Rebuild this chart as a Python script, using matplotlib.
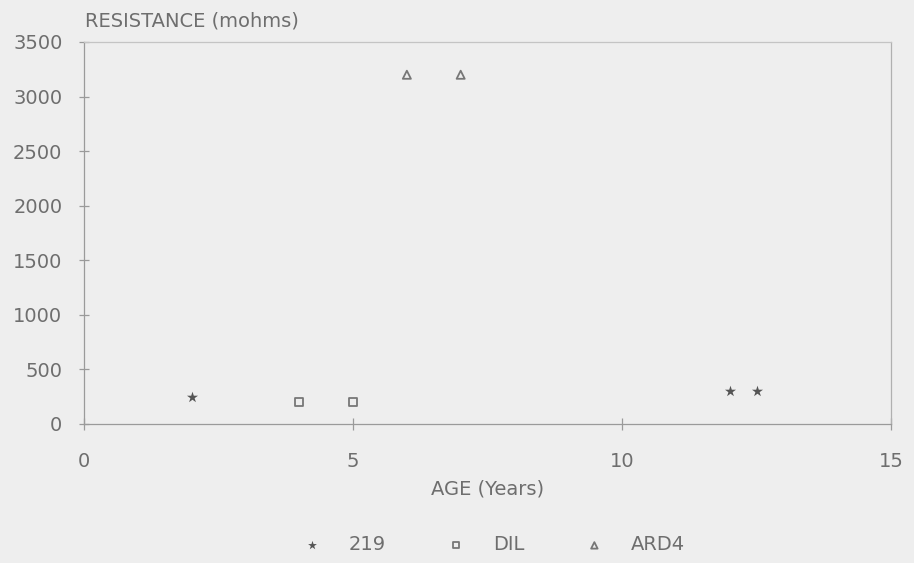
import numpy as np
import matplotlib.pyplot as plt

# data
age_219 = [2, 12, 12.5]
res_219 = [250, 300, 300]
age_dil = [4, 5]
res_dil = [200, 200]
age_ard4 = [6, 7]
res_ard4 = [3200, 3200]

xticks = [0, 5, 10, 15]
yticks = [0, 500, 1000, 1500, 2000, 2500, 3000, 3500]

bg = "#eeeeee"
txt = "#6e6e6e"
fs = 14
plt.rcParams["font.family"] = "DejaVu Sans"

fig = plt.figure(figsize=(9.14, 5.63), dpi=100, facecolor=bg)
ax = fig.add_axes([0.0919, 0.2469, 0.8831, 0.6785], facecolor=bg)

ax.scatter(age_219, res_219, marker="*", s=70, color="#555555", linewidths=0, label="219")
ax.scatter(age_dil, res_dil, marker="s", s=30, facecolors="none", edgecolors="#777777", linewidths=1.3, label="DIL")
ax.scatter(age_ard4, res_ard4, marker="^", s=34, facecolors="none", edgecolors="#777777", linewidths=1.3, label="ARD4")

ax.set_xlim(0, 15)
ax.set_ylim(0, 3500)
ax.set_xticks(xticks)
ax.set_yticks(yticks)

for s in ax.spines.values():
    s.set_color("#9a9a9a")
    s.set_linewidth(0.9)
ax.spines["top"].set_color("#c4c4c4")
ax.spines["right"].set_color("#b0b0b0")

ax.tick_params(axis="y", direction="inout", length=7, width=0.9, color="#9a9a9a",
               labelcolor=txt, labelsize=fs, pad=12)
ax.tick_params(axis="x", direction="inout", length=8, width=0.9, color="#9a9a9a",
               labelcolor=txt, labelsize=fs, pad=16)

ax.set_xlabel("AGE (Years)", color=txt, fontsize=fs, labelpad=6)
fig.text(0.093, 0.962, "RESISTANCE (mohms)", color=txt, fontsize=fs, ha="left", va="center")

leg = fig.legend(loc="center", bbox_to_anchor=(0.535, 0.032), ncol=3, frameon=False,
                 fontsize=fs, handletextpad=0.9, columnspacing=2.6, markerscale=0.8)
for t in leg.get_texts():
    t.set_color(txt)

fig.savefig("out.png", dpi=100, facecolor=bg)
